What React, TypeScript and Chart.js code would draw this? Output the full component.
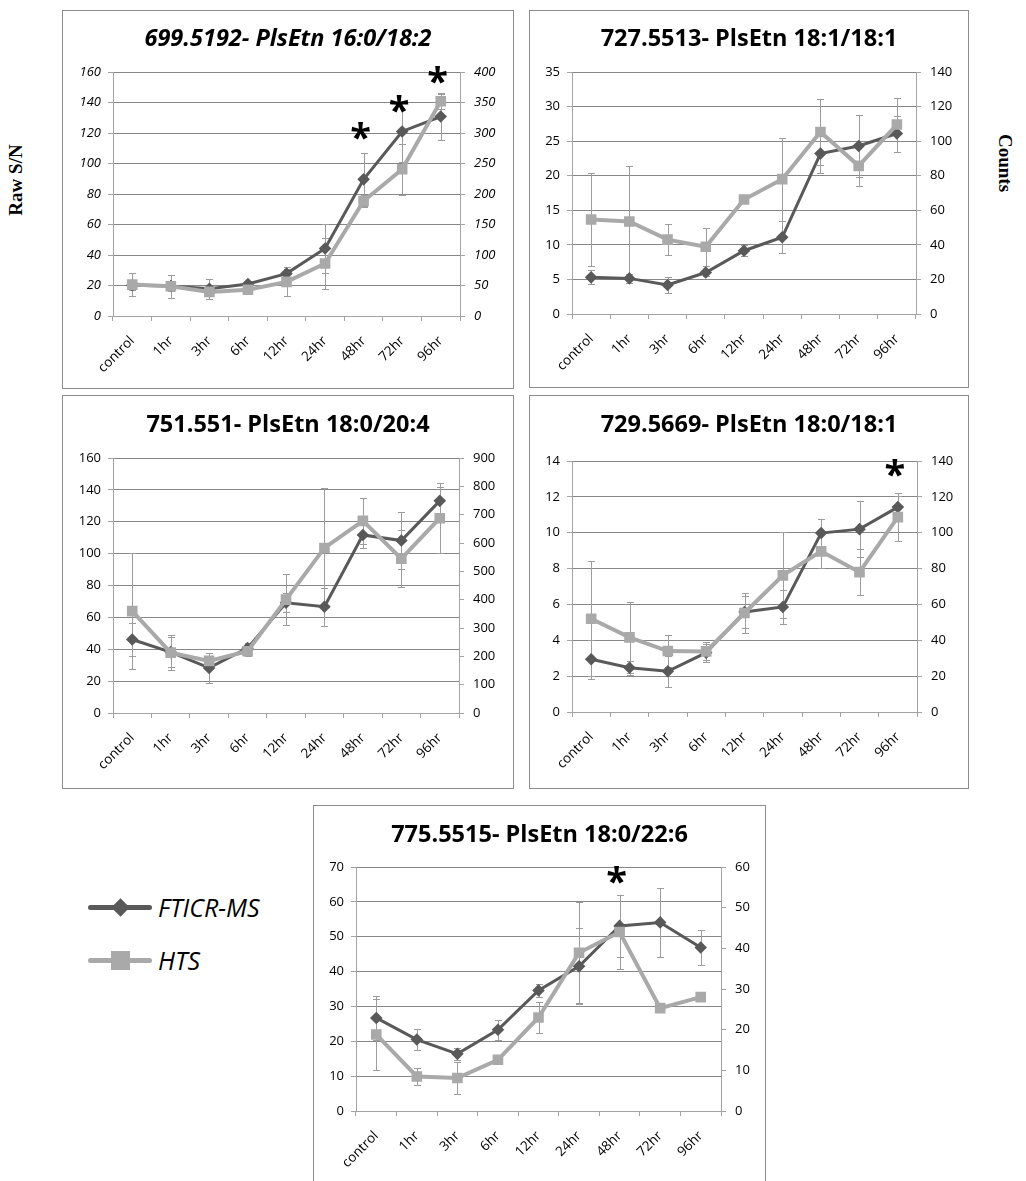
import React, { useEffect, useRef } from "react";
import { Chart, registerables } from "chart.js";

Chart.register(...registerables);

// ---------------- DATA ----------------
const CATEGORIES = ["control", "1hr", "3hr", "6hr", "12hr", "24hr", "48hr", "72hr", "96hr"];
const SERIES_NAMES = ["FTICR-MS", "HTS"];

// Panel A: 699.5192
const TITLE_A = "699.5192- PlsEtn 16:0/18:2";
const FTICR_A = [20.2, 19.7, 17.8, 21, 27.8, 44.3, 89.6, 121, 130.8];
const FTICR_ERR_A = [3, 3, 6.4, 2, 3, 16, 17.6, 20, 15.3];
const HTS_A = [51.5, 48.8, 39.5, 43, 56, 86, 188.5, 240.5, 352];
const HTS_ERR_A = [19, 19, 3, 3, 24, 42, 10, 42, 12];
const LEFT_AXIS_A = [0, 160, 20];
const RIGHT_AXIS_A = [0, 400, 50];
const STAR_CATS_A = ["48hr", "72hr", "96hr"];
const STAR_Y_A = [121, 139, 158];

// Panel B: 727.5513
const TITLE_B = "727.5513- PlsEtn 18:1/18:1";
const FTICR_B = [5.3, 5.15, 4.2, 6.0, 9.15, 11.1, 23.2, 24.3, 26.1];
const FTICR_ERR_B = [1.0, 0.7, 1.1, 0.5, 0.8, 2.3, 2.8, 4.5, 2.6];
const HTS_B = [54.7, 53.5, 43, 38.9, 66.2, 78, 105.3, 85.7, 109.6];
const HTS_ERR_B = [27, 32, 9, 11, 2, 24, 19, 11.6, 15.6];
const LEFT_AXIS_B = [0, 35, 5];
const RIGHT_AXIS_B = [0, 140, 20];
const STAR_CATS_B: string[] = [];
const STAR_Y_B: number[] = [];

// Panel C: 751.551
const TITLE_C = "751.551- PlsEtn 18:0/20:4";
const FTICR_C = [46.1, 38.2, 28.3, 40.7, 69.2, 66.7, 111.7, 108.2, 133.1];
const FTICR_ERR_C = [10.5, 9.5, 9.5, 3, 6, 12, 8, 18, 9];
const HTS_C = [359.6, 213, 184, 218, 400, 582.6, 678, 545, 687.5];
const HTS_ERR_C = [206, 62, 28, 17, 90, 211, 80, 100, 124];
const LEFT_AXIS_C = [0, 160, 20];
const RIGHT_AXIS_C = [0, 900, 100];
const STAR_CATS_C: string[] = [];
const STAR_Y_C: number[] = [];

// Panel D: 729.5669
const TITLE_D = "729.5669- PlsEtn 18:0/18:1";
const FTICR_D = [2.94, 2.47, 2.27, 3.31, 5.58, 5.86, 9.98, 10.2, 11.43];
const FTICR_ERR_D = [1.1, 0.4, 0.85, 0.5, 0.9, 0.95, 0.8, 1.55, 0.6];
const HTS_D = [52, 41.6, 34, 33.8, 55.2, 76.2, 89.6, 78, 108.7];
const HTS_ERR_D = [32, 20, 9, 5, 11, 24, 9.5, 13, 13.5];
const LEFT_AXIS_D = [0, 14, 2];
const RIGHT_AXIS_D = [0, 140, 20];
const STAR_CATS_D = ["96hr"];
const STAR_Y_D = [13.6];

// Panel E: 775.5515
const TITLE_E = "775.5515- PlsEtn 18:0/22:6";
const FTICR_E = [26.7, 20.5, 16.4, 23.3, 34.6, 41.5, 53.1, 54.1, 46.9];
const FTICR_ERR_E = [6.3, 3.1, 1.8, 2.9, 1.9, 10.9, 9, 9.9, 5.1];
const HTS_E = [18.8, 8.5, 8.1, 12.6, 23, 38.9, 44, 25.3, 28];
const HTS_ERR_E = [8.8, 2, 4, 0, 3.7, 12.4, 9.2, 0, 0];
const LEFT_AXIS_E = [0, 70, 10];
const RIGHT_AXIS_E = [0, 60, 10];
const STAR_CATS_E = ["48hr"];
const STAR_Y_E = [67.6];

const LEFT_TITLE = "Raw S/N";
const RIGHT_TITLE = "Counts";

// ---------------- STYLE / LAYOUT ----------------
const FONT = '"Open Sans", sans-serif';
const FT_COLOR = "#595959";
const HTS_COLOR = "#a9a9a9";
const GRID_COLOR = "#878787";
const AXIS_COLOR = "#a3a3a3";
const ERR_COLOR = "#9c9c9c";
const BOX_COLOR = "#8c8c8c";

type Box = { x: number; y: number; w: number; h: number };
type Plot = { L: number; R: number; T: number; B: number };

const LAYOUT_A = { box: { x: 62, y: 10, w: 452, h: 379 }, plot: { L: 113.3, R: 460, T: 72.3, B: 315.7 }, titleY: 36.7, italic: true };
const LAYOUT_B = { box: { x: 529, y: 10, w: 440, h: 378 }, plot: { L: 572.3, R: 916, T: 71.7, B: 314 }, titleY: 36.7, italic: false };
const LAYOUT_C = { box: { x: 62, y: 395, w: 452, h: 394 }, plot: { L: 113.3, R: 459.3, T: 458.3, B: 712.7 }, titleY: 423, italic: false };
const LAYOUT_D = { box: { x: 529, y: 395, w: 440, h: 394 }, plot: { L: 571.7, R: 916.7, T: 460.7, B: 711.7 }, titleY: 423, italic: false };
const LAYOUT_E = { box: { x: 313, y: 805, w: 453, h: 400 }, plot: { L: 355.7, R: 720.7, T: 866.7, B: 1110.7 }, titleY: 833, italic: false };

type PanelSpec = {
  title: string;
  ft: number[];
  ftErr: number[];
  hts: number[];
  htsErr: number[];
  left: number[];
  right: number[];
  starCats: string[];
  starY: number[];
  box: Box;
  plot: Plot;
  titleY: number;
  italic: boolean;
};

const PANELS: PanelSpec[] = [
  { title: TITLE_A, ft: FTICR_A, ftErr: FTICR_ERR_A, hts: HTS_A, htsErr: HTS_ERR_A, left: LEFT_AXIS_A, right: RIGHT_AXIS_A, starCats: STAR_CATS_A, starY: STAR_Y_A, ...LAYOUT_A },
  { title: TITLE_B, ft: FTICR_B, ftErr: FTICR_ERR_B, hts: HTS_B, htsErr: HTS_ERR_B, left: LEFT_AXIS_B, right: RIGHT_AXIS_B, starCats: STAR_CATS_B, starY: STAR_Y_B, ...LAYOUT_B },
  { title: TITLE_C, ft: FTICR_C, ftErr: FTICR_ERR_C, hts: HTS_C, htsErr: HTS_ERR_C, left: LEFT_AXIS_C, right: RIGHT_AXIS_C, starCats: STAR_CATS_C, starY: STAR_Y_C, ...LAYOUT_C },
  { title: TITLE_D, ft: FTICR_D, ftErr: FTICR_ERR_D, hts: HTS_D, htsErr: HTS_ERR_D, left: LEFT_AXIS_D, right: RIGHT_AXIS_D, starCats: STAR_CATS_D, starY: STAR_Y_D, ...LAYOUT_D },
  { title: TITLE_E, ft: FTICR_E, ftErr: FTICR_ERR_E, hts: HTS_E, htsErr: HTS_ERR_E, left: LEFT_AXIS_E, right: RIGHT_AXIS_E, starCats: STAR_CATS_E, starY: STAR_Y_E, ...LAYOUT_E },
];

// ---------------- PLUGINS ----------------
const errorBarPlugin = {
  id: "errorBars",
  beforeDatasetsDraw(chart: any) {
    const ctx = chart.ctx;
    chart.data.datasets.forEach((ds: any, di: number) => {
      const errs: number[] | undefined = ds.errors;
      if (!errs) return;
      const meta = chart.getDatasetMeta(di);
      const ys = chart.scales[ds.yAxisID];
      ctx.save();
      ctx.strokeStyle = ds.errorColor || ERR_COLOR;
      ctx.lineWidth = 1;
      meta.data.forEach((pt: any, i: number) => {
        const e = errs[i];
        if (!e) return;
        const v = ds.data[i];
        const x = Math.round(pt.x) + 0.5;
        const yTop = Math.round(ys.getPixelForValue(v + e)) + 0.5;
        const yBot = Math.round(ys.getPixelForValue(v - e)) + 0.5;
        ctx.beginPath();
        ctx.moveTo(x, yTop);
        ctx.lineTo(x, yBot);
        ctx.moveTo(x - 3.5, yTop);
        ctx.lineTo(x + 3.5, yTop);
        ctx.moveTo(x - 3.5, yBot);
        ctx.lineTo(x + 3.5, yBot);
        ctx.stroke();
      });
      ctx.restore();
    });
  },
};

const starPlugin = {
  id: "stars",
  afterDatasetsDraw(chart: any, _args: any, opts: any) {
    const cats: string[] = opts.cats || [];
    const vals: number[] = opts.vals || [];
    if (!cats.length) return;
    const ctx = chart.ctx;
    const xs = chart.scales.x;
    const ys = chart.scales.y;
    ctx.save();
    ctx.fillStyle = "#000";
    ctx.font = `bold 38px ${FONT}`;
    ctx.textAlign = "center";
    ctx.textBaseline = "alphabetic";
    const m = ctx.measureText("*");
    const off = (m.actualBoundingBoxAscent - m.actualBoundingBoxDescent) / 2;
    cats.forEach((c, k) => {
      const x = xs.getPixelForValue(CATEGORIES.indexOf(c)) - 3;
      const y = ys.getPixelForValue(vals[k]);
      ctx.fillText("*", x, y + off);
    });
    ctx.restore();
  },
};

// ---------------- COMPONENTS ----------------
function ChartPanel({ p }: { p: PanelSpec }) {
  const ref = useRef<HTMLCanvasElement>(null);
  const cx0 = p.box.x + 1;
  const cy0 = p.box.y + 1;
  const cw = p.box.w - 2;
  const ch = p.box.h - 2;

  useEffect(() => {
    const canvas = ref.current;
    if (!canvas) return;
    const lW = Math.round(p.plot.L - cx0);
    const rW = Math.round(cx0 + cw - p.plot.R);
    const padTop = Math.round(p.plot.T - cy0);
    const xH = Math.round(cy0 + ch - p.plot.B);
    const style = p.italic ? "italic" : "normal";
    const tickFont = { family: FONT, size: 13, style };
    const xFont = { family: FONT, size: 13.5, style: "normal" };

    const chart = new Chart(canvas, {
      type: "line",
      data: {
        labels: CATEGORIES,
        datasets: [
          {
            label: SERIES_NAMES[1],
            data: p.hts,
            yAxisID: "y1",
            borderColor: HTS_COLOR,
            backgroundColor: HTS_COLOR,
            borderWidth: 4,
            pointStyle: "rect",
            pointRadius: 7.5,
            pointHoverRadius: 7.5,
            pointBorderWidth: 0,
            pointBackgroundColor: HTS_COLOR,
            tension: 0,
            errors: p.htsErr,
            errorColor: ERR_COLOR,
          } as any,
          {
            label: SERIES_NAMES[0],
            data: p.ft,
            yAxisID: "y",
            borderColor: FT_COLOR,
            backgroundColor: FT_COLOR,
            borderWidth: 3,
            pointStyle: "rectRot",
            pointRadius: 6.3,
            pointHoverRadius: 6.3,
            pointBorderWidth: 0,
            pointBackgroundColor: FT_COLOR,
            tension: 0,
            errors: p.ftErr,
            errorColor: ERR_COLOR,
          } as any,
        ],
      },
      options: {
        responsive: false,
        animation: false,
        events: [],
        layout: { padding: { left: 0, right: 0, top: padTop, bottom: 0 } },
        plugins: {
          legend: { display: false },
          tooltip: { enabled: false },
          title: { display: false },
          stars: { cats: p.starCats, vals: p.starY },
        } as any,
        scales: {
          x: {
            type: "category",
            offset: true,
            grid: {
              display: true,
              drawOnChartArea: false,
              drawTicks: true,
              tickLength: 5,
              offset: true,
              color: AXIS_COLOR,
            },
            border: { display: true, color: AXIS_COLOR },
            ticks: {
              autoSkip: false,
              maxRotation: 45,
              minRotation: 45,
              padding: 12,
              color: "#000",
              font: xFont as any,
            },
            afterFit: (s: any) => {
              s.height = xH;
            },
          },
          y: {
            position: "left",
            min: p.left[0],
            max: p.left[1],
            ticks: { stepSize: p.left[2], padding: 7, color: "#000", font: tickFont as any },
            grid: { color: GRID_COLOR, tickColor: AXIS_COLOR, tickLength: 5, drawTicks: true },
            border: { display: true, color: AXIS_COLOR },
            afterFit: (s: any) => {
              s.width = lW;
            },
          },
          y1: {
            position: "right",
            min: p.right[0],
            max: p.right[1],
            ticks: { stepSize: p.right[2], padding: 9, color: "#000", font: tickFont as any },
            grid: { drawOnChartArea: false, color: AXIS_COLOR, tickLength: 5, drawTicks: true },
            border: { display: true, color: AXIS_COLOR },
            afterFit: (s: any) => {
              s.width = rW;
            },
          },
        } as any,
      },
      plugins: [errorBarPlugin as any, starPlugin as any],
    });
    return () => chart.destroy();
  }, []);

  const titleLH = 32;
  return (
    <div
      style={{
        position: "absolute",
        left: p.box.x,
        top: p.box.y,
        width: p.box.w,
        height: p.box.h,
        border: `1px solid ${BOX_COLOR}`,
        boxSizing: "border-box",
        background: "#fff",
      }}
    >
      <canvas ref={ref} width={cw} height={ch} style={{ display: "block", width: cw, height: ch }} />
      <div
        style={{
          position: "absolute",
          left: 0,
          top: p.titleY - cy0 - titleLH / 2,
          width: cw,
          height: titleLH,
          lineHeight: `${titleLH}px`,
          textAlign: "center",
          fontFamily: FONT,
          fontWeight: 700,
          fontStyle: p.italic ? "italic" : "normal",
          fontSize: 23.5,
          color: "#000",
          whiteSpace: "nowrap",
        }}
      >
        {p.title}
      </div>
    </div>
  );
}

function LegendItem({ y, name, color, marker }: { y: number; name: string; color: string; marker: "diamond" | "square" }) {
  return (
    <>
      <div
        style={{
          position: "absolute",
          left: 88,
          top: y - 2.5,
          width: 64,
          height: 5,
          borderRadius: 2.5,
          background: color,
        }}
      />
      {marker === "diamond" ? (
        <div
          style={{
            position: "absolute",
            left: 120 - 6.5,
            top: y - 6.5,
            width: 13,
            height: 13,
            background: color,
            transform: "rotate(45deg)",
          }}
        />
      ) : (
        <div
          style={{
            position: "absolute",
            left: 120 - 9.5,
            top: y - 9.5,
            width: 19,
            height: 19,
            background: color,
          }}
        />
      )}
      <div
        style={{
          position: "absolute",
          left: 158,
          top: y - 18,
          height: 36,
          lineHeight: "36px",
          fontFamily: FONT,
          fontStyle: "italic",
          fontSize: 25,
          color: "#000",
          whiteSpace: "nowrap",
        }}
      >
        {name}
      </div>
    </>
  );
}

export default function App() {
  const rotated = (text: string, cx: number, cy: number, deg: number) => (
    <div
      style={{
        position: "absolute",
        left: cx,
        top: cy,
        transform: `translate(-50%, -50%) rotate(${deg}deg)`,
        fontFamily: '"Liberation Serif", "Times New Roman", serif',
        fontWeight: 700,
        fontSize: 19,
        whiteSpace: "nowrap",
        color: "#000",
      }}
    >
      {text}
    </div>
  );
  return (
    <div
      style={{
        position: "absolute",
        left: 0,
        top: 0,
        width: 1026,
        height: 1181,
        overflow: "hidden",
        background: "#fff",
      }}
    >
      {PANELS.map((p, i) => (
        <ChartPanel key={i} p={p} />
      ))}
      {rotated(LEFT_TITLE, 16, 180, -90)}
      {rotated(RIGHT_TITLE, 1005, 163, 90)}
      <LegendItem y={907} name={SERIES_NAMES[0]} color={FT_COLOR} marker="diamond" />
      <LegendItem y={960} name={SERIES_NAMES[1]} color={HTS_COLOR} marker="square" />
    </div>
  );
}
